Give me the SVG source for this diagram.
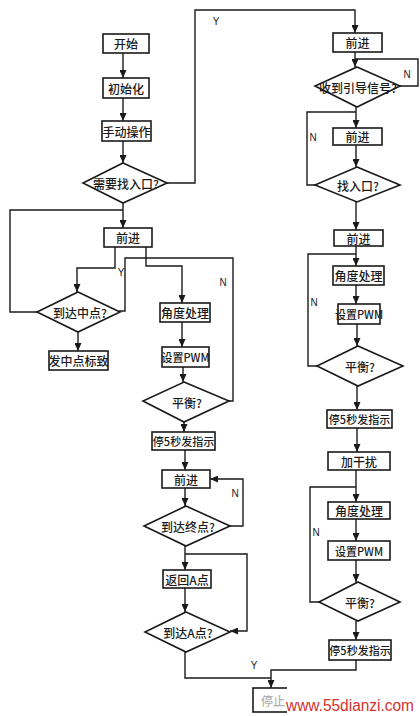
<svg xmlns="http://www.w3.org/2000/svg" width="420" height="716" viewBox="0 0 420 716">
<defs>
<marker id="ah" markerUnits="userSpaceOnUse" markerWidth="8" markerHeight="7" refX="8" refY="3.5" orient="auto">
<path d="M0,0 L8,3.5 L0,7 z" fill="#1a1a1a"/>
</marker>
<style>
.b{fill:#fff;stroke:#1a1a1a;stroke-width:1.6}
.t{font-family:"Noto Sans CJK SC","Noto Sans",sans-serif;font-size:12px;font-weight:500;fill:#1a1a1a;text-anchor:middle;dominant-baseline:central}
.s{font-size:11px}
.l{font-family:"Liberation Sans",Arial,sans-serif;font-size:10px;fill:#1a1a1a;text-anchor:middle;dominant-baseline:central}
.c{fill:none;stroke:#1a1a1a;stroke-width:1.4}
.a{marker-end:url(#ah)}
</style>
</defs>
<rect width="420" height="716" fill="#fff"/>

<g id="connectors">
<path class="c a" d="M123,53 V78"/>
<path class="c a" d="M123,98 V121"/>
<path class="c a" d="M123,141 V163"/>
<path class="c a" d="M167,183 H195 V10 H355 V33"/>
<path class="c a" d="M123,203 V228"/>
<path class="c" d="M37,312 H10 V210 H123"/>
<path class="c a" d="M115,247 V268 H77 V292"/>
<path class="c a" d="M146,247 V266 H182 V303"/>
<path class="c" d="M119,311 H125 V258 H233 V401 H229"/>
<path class="c a" d="M78,332 V351"/>
<path class="c a" d="M182,322 V347"/>
<path class="c a" d="M183,367 V382"/>
<path class="c a" d="M184,422 V432"/>
<path class="c a" d="M185,450 V470"/>
<path class="c a" d="M185,488 V506"/>
<path class="c a" d="M230,526 H243 V479 H210"/>
<path class="c a" d="M185,546 V570"/>
<path class="c a" d="M185,554 H247 V631 H230"/>
<path class="c a" d="M185,588 V612"/>
<path class="c" d="M185,652 V678 H271"/>
<path class="c a" d="M356,660 V670 H271 V688"/>

<path class="c a" d="M355,52 V67"/>
<path class="c" d="M400,86 H418 V59 H355"/>
<path class="c a" d="M356,107 V128"/>
<path class="c" d="M315,185 H307 V112 H356"/>
<path class="c a" d="M356,145 V167"/>
<path class="c a" d="M356,202 V230"/>
<path class="c a" d="M356,246 V266"/>
<path class="c" d="M317,366 H308 V254 H356"/>
<path class="c a" d="M356,285 V304"/>
<path class="c a" d="M357,324 V346"/>
<path class="c a" d="M357,386 V410"/>
<path class="c a" d="M357,428 V452"/>
<path class="c a" d="M356,470 V502"/>
<path class="c" d="M319,602 H310 V487 H356"/>
<path class="c a" d="M356,519 V541"/>
<path class="c a" d="M356,560 V582"/>
<path class="c a" d="M356,621 V640"/>

<text class="l" x="216" y="21">Y</text>
<text class="l" x="407" y="74">N</text>
<text class="l" x="313" y="137">N</text>
<text class="l" x="121" y="272">Y</text>
<text class="l" x="223" y="282">N</text>
<text class="l" x="314" y="302">N</text>
<text class="l" x="235" y="493">N</text>
<text class="l" x="316" y="532">N</text>
<text class="l" x="254" y="665">Y</text>
</g>

<g id="start"><rect class="b" x="103" y="34" width="46" height="19"/><text class="t" x="126" y="43.5">开始</text></g>
<g id="init"><rect class="b" x="103" y="78" width="46" height="20"/><text class="t" x="126" y="88">初始化</text></g>
<g id="manual"><rect class="b" x="102" y="121" width="49" height="20"/><text class="t" x="126.5" y="131">手动操作</text></g>
<g id="needEntry"><polygon class="b" points="123,163 167,183 123,203 83,183"/><text class="t" x="126" y="183">需要找入口?</text></g>
<g id="fwdL1"><rect class="b" x="104" y="228" width="48" height="19"/><text class="t" x="128" y="237.5">前进</text></g>
<g id="midpoint"><polygon class="b" points="78,292 120,312 78,332 37,312"/><text class="t" x="80" y="312">到达中点?</text></g>
<g id="midflag"><rect class="b" x="49" y="351" width="59" height="19"/><text class="t" x="78.5" y="360.5">发中点标致</text></g>
<g id="angleL"><rect class="b" x="160" y="303" width="50" height="19"/><text class="t" x="185" y="312.5">角度处理</text></g>
<g id="pwmL"><rect class="b" x="162" y="347" width="47" height="20"/><text class="t s" x="185.5" y="357">设置PWM</text></g>
<g id="balanceL"><polygon class="b" points="184,382 229,401 184,422 143,401"/><text class="t" x="187" y="402">平衡?</text></g>
<g id="stopL"><rect class="b" x="152" y="432" width="63" height="18"/><text class="t s" x="183.5" y="441">停5秒发指示</text></g>
<g id="fwdL2"><rect class="b" x="162" y="470" width="48" height="18"/><text class="t" x="186" y="479">前进</text></g>
<g id="endpoint"><polygon class="b" points="186,506 230,526 186,546 144,526"/><text class="t" x="188" y="526">到达终点?</text></g>
<g id="returnA"><rect class="b" x="163" y="570" width="48" height="18"/><text class="t" x="187" y="579">返回A点</text></g>
<g id="reachA"><polygon class="b" points="186,612 230,632 186,652 145,632"/><text class="t" x="188" y="632">到达A点?</text></g>

<g id="fwdR1"><rect class="b" x="333" y="33" width="49" height="19"/><text class="t" x="357.5" y="42.5">前进</text></g>
<g id="guide"><polygon class="b" points="357,67 400,86 357,107 315,86"/><text class="t" x="358" y="87">收到引导信号?</text></g>
<g id="fwdR2"><rect class="b" x="333" y="128" width="49" height="17"/><text class="t" x="357.5" y="136.5">前进</text></g>
<g id="findEntry"><polygon class="b" points="357,167 400,185 357,202 315,185"/><text class="t" x="358" y="185">找入口?</text></g>
<g id="fwdR3"><rect class="b" x="334" y="230" width="49" height="16"/><text class="t" x="358.5" y="238">前进</text></g>
<g id="angleR1"><rect class="b" x="333" y="266" width="51" height="19"/><text class="t" x="358.5" y="275.5">角度处理</text></g>
<g id="pwmR1"><rect class="b" x="338" y="304" width="42" height="20"/><text class="t s" x="359" y="314">设置PWM</text></g>
<g id="balanceR1"><polygon class="b" points="358,346 403,366 358,386 317,366"/><text class="t" x="360" y="366">平衡?</text></g>
<g id="stopR1"><rect class="b" x="327" y="410" width="65" height="18"/><text class="t s" x="359.5" y="419">停5秒发指示</text></g>
<g id="disturb"><rect class="b" x="328" y="452" width="62" height="18"/><text class="t" x="359" y="461">加干扰</text></g>
<g id="angleR2"><rect class="b" x="328" y="502" width="62" height="17"/><text class="t" x="359" y="510.5">角度处理</text></g>
<g id="pwmR2"><rect class="b" x="328" y="541" width="62" height="19"/><text class="t s" x="359" y="550.5">设置PWM</text></g>
<g id="balanceR2"><polygon class="b" points="358,582 400,602 358,621 319,602"/><text class="t" x="360" y="602">平衡?</text></g>
<g id="stopR2"><rect class="b" x="329" y="640" width="62" height="20"/><text class="t s" x="360" y="650">停5秒发指示</text></g>

<g id="stop"><rect class="b" x="253" y="688" width="40" height="24"/><text class="t" x="273" y="700" style="fill:#b0b0b0">停止</text></g>
<rect x="287" y="686" width="133" height="30" fill="#fff"/>
<text x="350" y="705" font-family="Liberation Sans, Arial, sans-serif" font-size="16" fill="#d8312c" text-anchor="middle" dominant-baseline="central" textLength="128" lengthAdjust="spacingAndGlyphs">www.55dianzi.com</text>
</svg>
